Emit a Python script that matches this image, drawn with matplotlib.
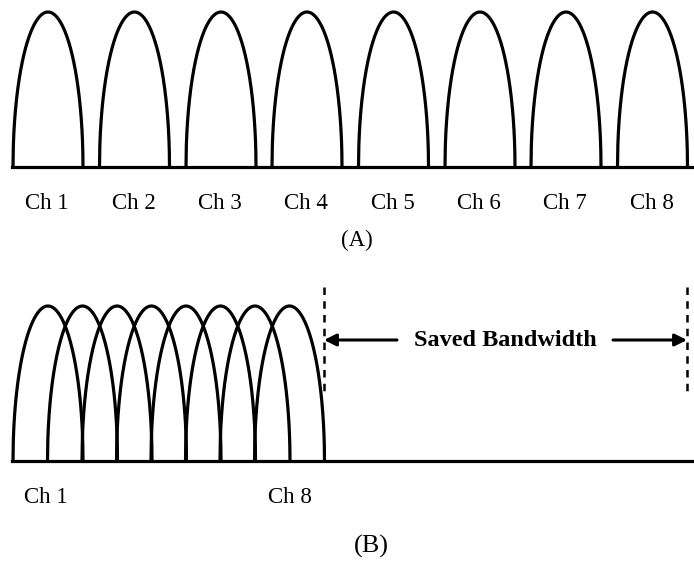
import numpy as np
import matplotlib
matplotlib.use('Agg')
import matplotlib.pyplot as plt

# channel layout (pixel-like units, y grows downward)
channels = ['Ch 1', 'Ch 2', 'Ch 3', 'Ch 4', 'Ch 5', 'Ch 6', 'Ch 7', 'Ch 8']
starts_a = [13, 99.5, 186, 272, 358.5, 445, 531, 617.5]
starts_b = [13, 47.5, 82, 116.5, 151, 185.5, 220, 254.5]
lobe_width = 70
lobe_height = 155
base_a = 167
base_b = 461
labels_b = ['Ch 1', 'Ch 8']
guard_x = [324, 687]

plt.rcParams['font.family'] = ['Liberation Serif', 'DejaVu Serif']

fig = plt.figure(figsize=(6.94, 5.61), dpi=100)
ax = fig.add_axes([0, 0, 1, 1])
ax.set_xlim(0, 694)
ax.set_ylim(561, 0)
ax.axis('off')

lw = 2.3
u = np.linspace(-1, 1, 400)
shape = np.sqrt(np.clip(1 - u ** 2, 0, None))


def lobe(x0, base):
    xs = x0 + (u + 1) / 2 * lobe_width
    ax.plot(xs, base - lobe_height * shape, color='black', lw=lw,
            solid_capstyle='butt')


# (A) conventional FDM
for s, name in zip(starts_a, channels):
    lobe(s, base_a)
    ax.text(s + lobe_width / 2 - 1, 203, name, ha='center', va='center',
            fontsize=16.5)
ax.plot([12, 694], [base_a, base_a], color='black', lw=lw)
ax.text(357, 240, '(A)', ha='center', va='center', fontsize=16.5)

# (B) OFDM with overlapping subcarriers
for s in starts_b:
    lobe(s, base_b)
ax.plot([12, 694], [base_b, base_b], color='black', lw=lw)
ax.text(starts_b[0] + 33, 497, labels_b[0], ha='center', va='center', fontsize=16.5)
ax.text(starts_b[-1] + 35, 497, labels_b[1], ha='center', va='center', fontsize=16.5)
ax.text(371, 546, '(B)', ha='center', va='center', fontsize=19)

for gx in guard_x:
    ax.plot([gx, gx], [287, 393], color='black', lw=1.8, ls=(0, (3, 2.5)))

ax.annotate('', xy=(guard_x[0], 340), xytext=(397, 340),
            arrowprops=dict(arrowstyle='-|>', color='black', lw=2.2,
                            mutation_scale=18, shrinkA=0, shrinkB=0))
ax.annotate('', xy=(guard_x[1], 340), xytext=(613, 340),
            arrowprops=dict(arrowstyle='-|>', color='black', lw=2.2,
                            mutation_scale=18, shrinkA=0, shrinkB=0))
ax.text(505, 340, 'Saved Bandwidth', ha='center', va='center',
        fontsize=17.5, fontweight='bold')

fig.savefig('out.png', dpi=100, facecolor='white')
